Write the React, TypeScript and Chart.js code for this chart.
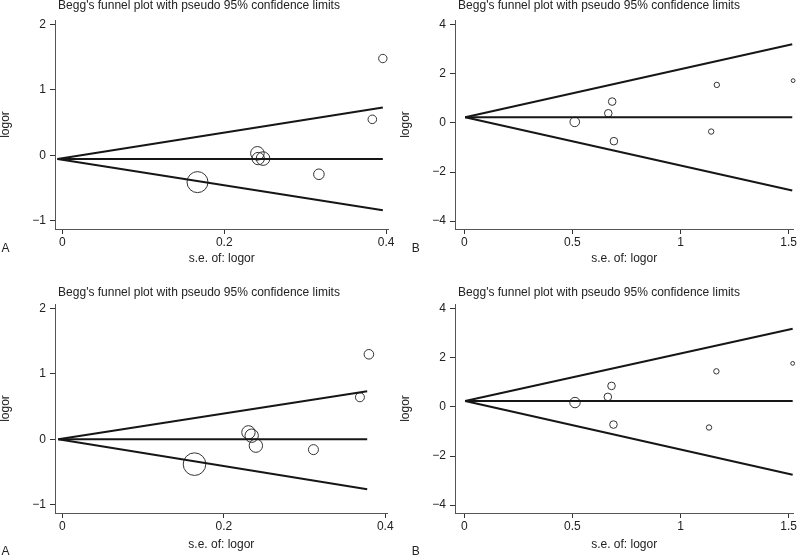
import React, { useEffect, useRef } from "react";
import { Chart, registerables } from "chart.js";

Chart.register(...registerables);

const FONT = "'Liberation Sans', Arial, Helvetica, sans-serif";
const TITLE = "Begg's funnel plot with pseudo 95% confidence limits";
const X_TITLE = "s.e. of: logor";
const Y_TITLE = "logor";

// ---- tick labels ----
const xTicksA = [0, 0.2, 0.4];
const yTicksA = [-1, 0, 1, 2];
const xTicksB = [0, 0.5, 1, 1.5];
const yTicksB = [-4, -2, 0, 2, 4];

// ---- axis ranges ----
const xRangeA = [-0.0091, 0.403];
const yRangeA = [-1.127, 2.069];
const xRangeB = [-0.043, 1.522];
const yRangeB = [-4.32, 4.187];

// ---- top-left panel (A) ----
const seA1 = [0.396, 0.383, 0.167, 0.317, 0.241, 0.242, 0.248];
const logorA1 = [1.48, 0.55, -0.41, -0.29, 0.03, -0.05, -0.05];
const weightA1 = [4.2, 4.3, 10.5, 5.3, 6.8, 6.2, 6.8];
const lineSeA1 = [-0.006, 0.396];
const centerA1 = [-0.055, -0.055];
const upperA1 = [-0.055, 0.73];
const lowerA1 = [-0.055, -0.84];

// ---- top-right panel (B) ----
const seB1 = [0.511, 0.666, 0.684, 0.692, 1.168, 1.142, 1.521];
const logorB1 = [0.04, 0.39, 0.866, -0.745, 1.545, -0.354, 1.72];
const weightB1 = [4.8, 3.8, 3.8, 3.8, 2.7, 2.7, 1.9];
const lineSeB1 = [0.004, 1.517];
const centerB1 = [0.23, 0.23];
const upperB1 = [0.23, 3.2];
const lowerB1 = [0.23, -2.75];

// ---- bottom-left panel (A) ----
const seA2 = [0.3797, 0.3686, 0.1637, 0.311, 0.2305, 0.2345, 0.2397];
const logorA2 = [1.3, 0.643, -0.38, -0.158, 0.106, 0.055, -0.097];
const weightA2 = [4.8, 4.5, 11.3, 5.0, 6.7, 6.7, 6.7];
const lineSeA2 = [-0.005, 0.3776];
const centerA2 = [0, 0];
const upperA2 = [0, 0.735];
const lowerA2 = [0, -0.765];

// ---- bottom-right panel (B) ----
const seB2 = [0.512, 0.664, 0.681, 0.69, 1.166, 1.132, 1.519];
const logorB2 = [0.175, 0.406, 0.853, -0.72, 1.447, -0.84, 1.77];
const weightB2 = [5.2, 3.8, 3.8, 3.8, 2.7, 2.7, 1.9];
const lineSeB2 = [0.004, 1.519];
const centerB2 = [0.24, 0.24];
const upperB2 = [0.24, 3.18];
const lowerB2 = [0.24, -2.76];

type Panel = {
  left: number;
  top: number;
  letter: string;
  letterX: number;
  letterY: number;
  titleY: number;
  xTitlePad: number;
  se: number[];
  logor: number[];
  weight: number[];
  lineSe: number[];
  center: number[];
  upper: number[];
  lower: number[];
  xTicks: number[];
  yTicks: number[];
  xRange: number[];
  yRange: number[];
};

const PANELS: Panel[] = [
  { left: 0, top: 0, letter: "A", letterX: 5.5, letterY: 248.5, titleY: 6, xTitlePad: 13,
    se: seA1, logor: logorA1, weight: weightA1, lineSe: lineSeA1, center: centerA1, upper: upperA1, lower: lowerA1,
    xTicks: xTicksA, yTicks: yTicksA, xRange: xRangeA, yRange: yRangeA },
  { left: 400, top: 0, letter: "B", letterX: 15.7, letterY: 248.5, titleY: 6, xTitlePad: 13,
    se: seB1, logor: logorB1, weight: weightB1, lineSe: lineSeB1, center: centerB1, upper: upperB1, lower: lowerB1,
    xTicks: xTicksB, yTicks: yTicksB, xRange: xRangeB, yRange: yRangeB },
  { left: 0, top: 284, letter: "A", letterX: 5.5, letterY: 267.5, titleY: 9, xTitlePad: 11,
    se: seA2, logor: logorA2, weight: weightA2, lineSe: lineSeA2, center: centerA2, upper: upperA2, lower: lowerA2,
    xTicks: xTicksA, yTicks: yTicksA, xRange: xRangeA, yRange: yRangeA },
  { left: 400, top: 284, letter: "B", letterX: 15.7, letterY: 267.5, titleY: 9, xTitlePad: 11,
    se: seB2, logor: logorB2, weight: weightB2, lineSe: lineSeB2, center: centerB2, upper: upperB2, lower: lowerB2,
    xTicks: xTicksB, yTicks: yTicksB, xRange: xRangeB, yRange: yRangeB },
];

const fmt = (v: number | string) => String(v).replace("-", "\u2212");

const panelTextPlugin = {
  id: "panelText",
  afterDraw(chart: any, _args: any, opts: any) {
    const ctx = chart.ctx as CanvasRenderingContext2D;
    ctx.save();
    ctx.fillStyle = "#222";
    ctx.font = `12px ${FONT}`;
    ctx.textAlign = "center";
    ctx.textBaseline = "middle";
    ctx.fillText(opts.title, chart.width / 2 - 1, opts.titleY);
    ctx.fillText(opts.letter, opts.letterX, opts.letterY);
    ctx.restore();
  },
};

function line(xs: number[], ys: number[]) {
  return {
    type: "scatter" as const,
    data: xs.map((x, i) => ({ x, y: ys[i] })),
    showLine: true,
    borderColor: "#161616",
    borderWidth: 2,
    pointRadius: 0,
    clip: false as any,
  };
}

function makeChart(canvas: HTMLCanvasElement, p: Panel) {
  const font = { family: FONT, size: 12, lineHeight: 1 };
  return new Chart(canvas, {
    type: "scatter",
    data: {
      datasets: [
        line(p.lineSe, p.upper),
        line(p.lineSe, p.center),
        line(p.lineSe, p.lower),
        {
          type: "scatter",
          data: p.se.map((x, i) => ({ x, y: p.logor[i] })),
          pointRadius: p.weight,
          pointStyle: "circle",
          borderColor: "#333",
          backgroundColor: "rgba(0,0,0,0)",
          borderWidth: 1,
          clip: false as any,
        },
      ],
    },
    options: {
      responsive: false,
      animation: false,
      devicePixelRatio: 1,
      events: [],
      layout: { padding: { top: 20, right: 6, bottom: 0, left: 0 } },
      plugins: {
        legend: { display: false },
        tooltip: { enabled: false },
        title: { display: false },
        panelText: { title: TITLE, titleY: p.titleY, letter: p.letter, letterX: p.letterX, letterY: p.letterY },
      } as any,
      scales: {
        x: {
          type: "linear",
          min: p.xRange[0],
          max: p.xRange[1],
          afterBuildTicks: (s: any) => {
            s.ticks = p.xTicks.map((v) => ({ value: v }));
          },
          afterFit: (s: any) => {
            s.height = 49;
          },
          border: { display: true, color: "#555", width: 1 },
          grid: { display: true, drawOnChartArea: false, drawTicks: true, tickLength: 5, color: "#333" },
          ticks: {
            autoSkip: false,
            maxRotation: 0,
            minRotation: 0,
            padding: 3,
            color: "#222",
            font,
            callback: (v: any) => fmt(v),
          },
          title: { display: true, text: X_TITLE, color: "#222", font, padding: { top: 0, bottom: p.xTitlePad } },
        },
        y: {
          type: "linear",
          min: p.yRange[0],
          max: p.yRange[1],
          afterBuildTicks: (s: any) => {
            s.ticks = p.yTicks.map((v) => ({ value: v }));
          },
          afterFit: (s: any) => {
            s.width = 55;
          },
          border: { display: true, color: "#555", width: 1 },
          grid: { display: true, drawOnChartArea: false, drawTicks: true, tickLength: 5, color: "#333" },
          ticks: {
            autoSkip: false,
            padding: 4,
            color: "#222",
            font,
            callback: (v: any) => fmt(v),
          },
          title: { display: true, text: Y_TITLE, color: "#222", font, padding: { top: 0, bottom: 0 } },
        },
      },
    } as any,
    plugins: [panelTextPlugin as any],
  });
}

export default function App() {
  const canvases = useRef<(HTMLCanvasElement | null)[]>([]);
  useEffect(() => {
    const charts = PANELS.map((p, i) => makeChart(canvases.current[i] as HTMLCanvasElement, p));
    return () => charts.forEach((c) => c.destroy());
  }, []);
  return (
    <div
      style={{
        position: "absolute",
        left: 0,
        top: 0,
        width: 800,
        height: 556,
        overflow: "hidden",
        background: "#fff",
      }}
    >
      {PANELS.map((p, i) => (
        <canvas
          key={i}
          ref={(el) => {
            canvases.current[i] = el;
          }}
          width={400}
          height={278}
          style={{ position: "absolute", left: p.left, top: p.top, width: 400, height: 278, display: "block" }}
        />
      ))}
    </div>
  );
}
